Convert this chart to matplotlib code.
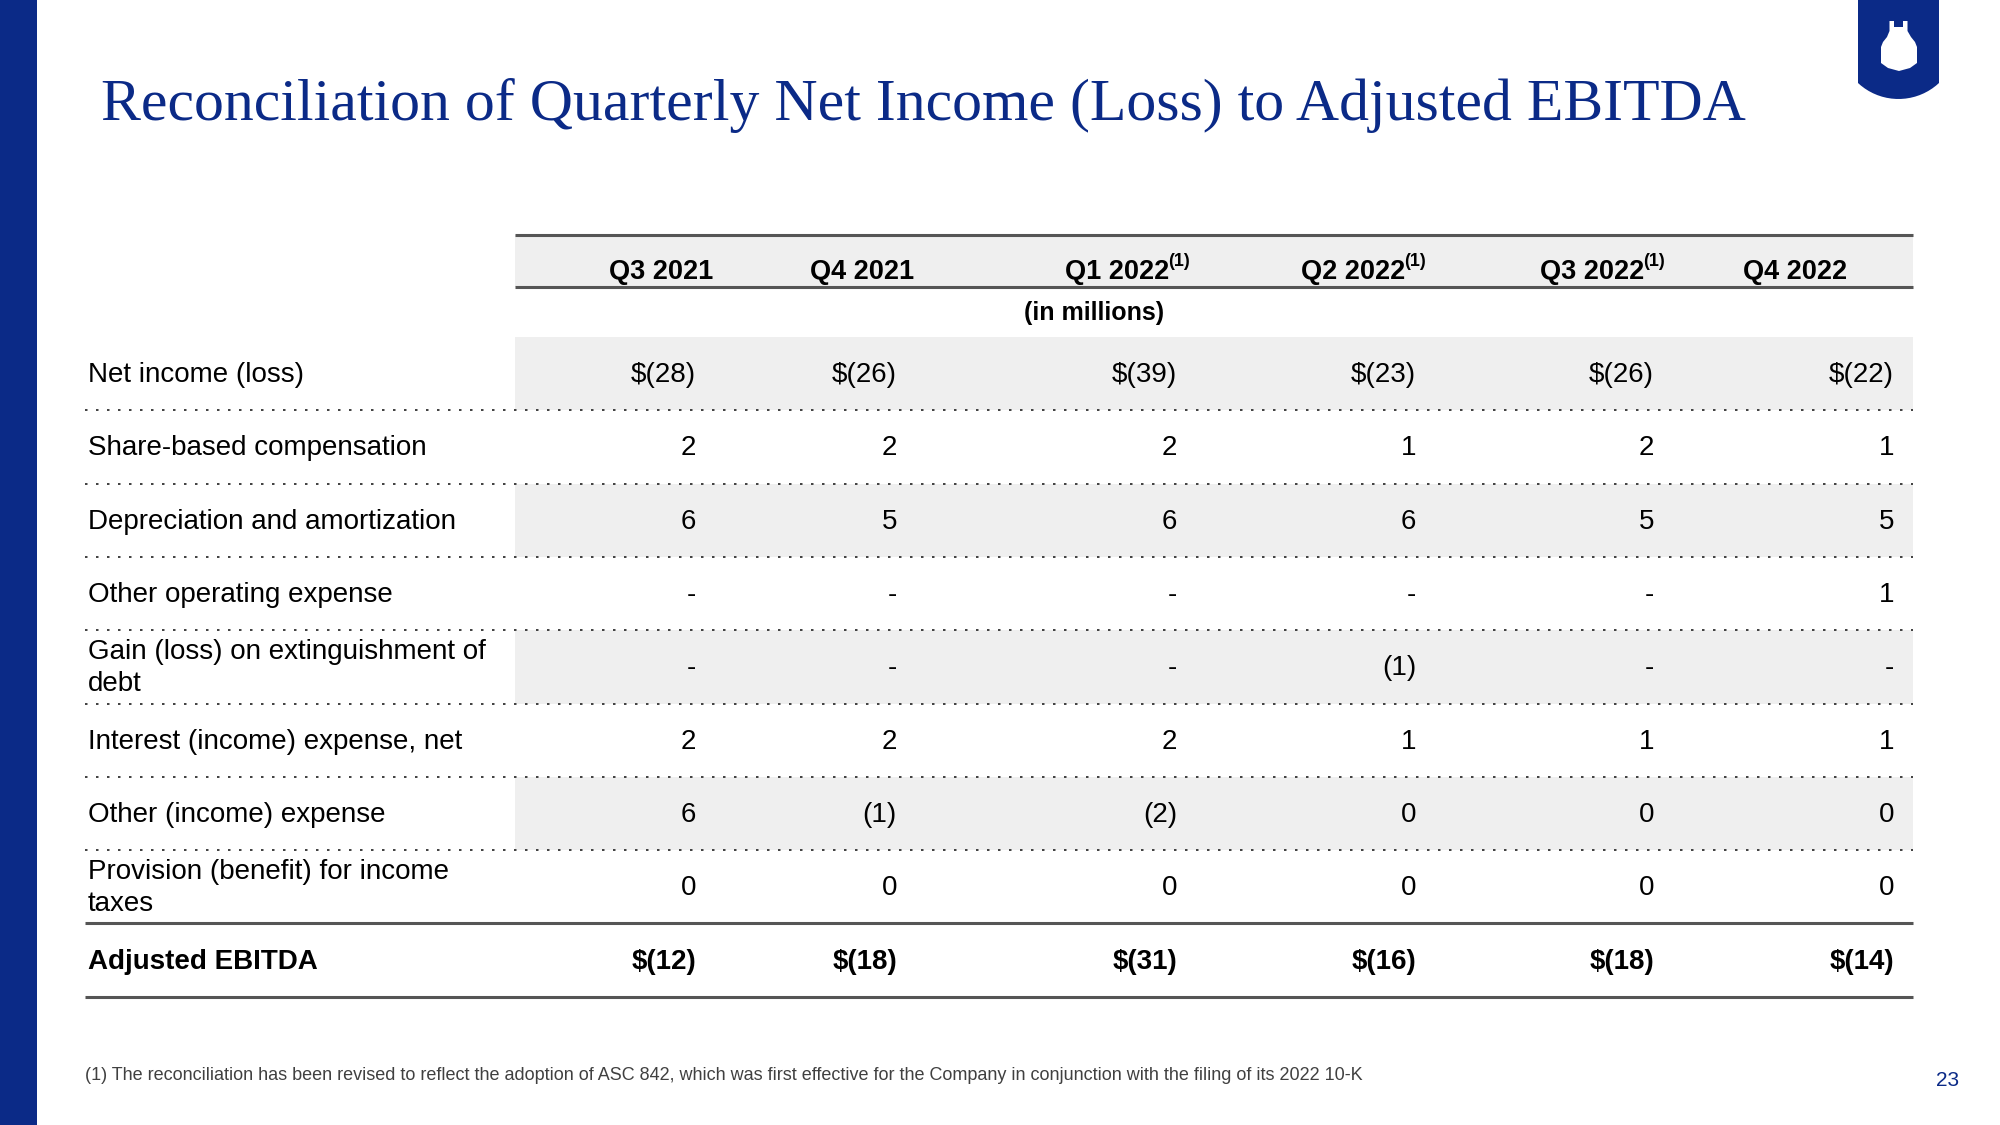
import numpy as np
import matplotlib.pyplot as plt
from matplotlib.patches import Polygon, Rectangle

# ---- data ----
quarters = ['Q3 2021', 'Q4 2021', 'Q1 2022', 'Q2 2022', 'Q3 2022', 'Q4 2022']
revised = [False, False, True, True, True, False]
row_labels = ['Net income (loss)', 'Share-based compensation', 'Depreciation and amortization',
              'Other operating expense', 'Gain (loss) on extinguishment of\ndebt',
              'Interest (income) expense, net', 'Other (income) expense',
              'Provision (benefit) for income\ntaxes', 'Adjusted EBITDA']
net_income = [-28, -26, -39, -23, -26, -22]
share_based_comp = [2, 2, 2, 1, 2, 1]
dep_amort = [6, 5, 6, 6, 5, 5]
other_operating = [None, None, None, None, None, 1]
gain_loss_debt = [None, None, None, -1, None, None]
interest_net = [2, 2, 2, 1, 1, 1]
other_income = [6, -1, -2, 0, 0, 0]
income_taxes = [0, 0, 0, 0, 0, 0]
adjusted_ebitda = [-12, -18, -31, -16, -18, -14]
rows = [net_income, share_based_comp, dep_amort, other_operating, gain_loss_debt,
        interest_net, other_income, income_taxes, adjusted_ebitda]
dollar_rows = [0, 8]

title = 'Reconciliation of Quarterly Net Income (Loss) to Adjusted EBITDA'
footnote = ('(1) The reconciliation has been revised to reflect the adoption of ASC 842, which was first '
            'effective for the Company in conjunction with the filing of its 2022 10-K')
page_no = '23'

NAVY = '#0B2A87'
GRAY = '#EFEFEF'
LINE = '#555555'

def fmt(v, dollar):
    if v is None:
        return '-'
    s = f'({abs(v)})' if v < 0 else f'{v}'
    return '$' + s if dollar else s

plt.rcParams['font.family'] = ['Liberation Sans', 'DejaVu Sans']
fig = plt.figure(figsize=(20, 11.25), dpi=100)
ax = fig.add_axes([0, 0, 1, 1])
ax.set_xlim(0, 2000)
ax.set_ylim(1125, 0)
ax.axis('off')

# left bar
ax.add_patch(Rectangle((0, 0), 37, 1125, color=NAVY, lw=0))

# logo shield
t = np.linspace(0, np.pi, 40)
r = 59.3
arc = [(1898.5 + r * np.cos(a), 39.7 + r * np.sin(a)) for a in t]
arc = [p for p in arc if p[1] >= 83]
shield = [(1858, 0), (1939, 0), (1939, 83)] + arc + [(1858, 83)]
ax.add_patch(Polygon(shield, closed=True, color=NAVY, lw=0))
apron = [(1889.5, 21), (1894, 21), (1894, 27), (1903, 27), (1903, 21), (1907.5, 21), (1907.5, 31),
         (1911, 37), (1915, 42), (1917, 47), (1917, 63), (1910, 68), (1899, 71), (1888, 68),
         (1881, 63), (1881, 47), (1883, 42), (1887, 37), (1889.5, 31)]
ax.add_patch(Polygon(apron, closed=True, color='white', lw=0))

# title
ax.text(101, 120, title, fontsize=43, color=NAVY, family='Liberation Serif', va='baseline', ha='left')

# table geometry
tab_x0, tab_x1, line_x0 = 515, 1913, 85
head_top, head_bot = 235, 287
row_top, row_h = 337, 73.3
head_cx = [661, 862, 1117, 1353, 1592, 1795]
val_rx = [696, 897, 1177, 1416, 1654, 1894]

ax.add_patch(Rectangle((tab_x0, head_top), tab_x1 - tab_x0, head_bot - head_top, color=GRAY, lw=0))
ax.plot([tab_x0, tab_x1], [head_top, head_top], color=LINE, lw=2.2, solid_capstyle='butt')
ax.plot([tab_x0, tab_x1], [head_bot, head_bot], color=LINE, lw=2.2, solid_capstyle='butt')

renderer = fig.canvas.get_renderer()
for q, cx, rev in zip(quarters, head_cx, revised):
    tx = ax.text(cx, 272, q, fontsize=19.5, fontweight='bold', ha='center', va='center')
    if rev:
        bb = tx.get_window_extent(renderer).transformed(ax.transData.inverted())
        ax.text(bb.x1 - 1, 262, '(1)', fontsize=13, fontweight='bold', ha='left', va='center')
ax.text(1094, 313, '(in millions)', fontsize=18, fontweight='bold', ha='center', va='center')

for i, (lab, vals) in enumerate(zip(row_labels, rows)):
    y0 = row_top + i * row_h
    yc = y0 + row_h / 2 + 1.5
    if i % 2 == 0 and i < 8:
        ax.add_patch(Rectangle((tab_x0, y0), tab_x1 - tab_x0, row_h, color=GRAY, lw=0))
    bold = 'bold' if i == 8 else 'normal'
    ax.text(88, yc, lab, fontsize=20, fontweight=bold, ha='left', va='center', linespacing=1.3)
    for v, rx in zip(vals, val_rx):
        ax.text(rx, yc, fmt(v, i in dollar_rows), fontsize=20, fontweight=bold, ha='right', va='center')
    yb = y0 + row_h
    if i < 7:
        ax.plot([line_x0, tab_x1], [yb, yb], color='#444444', lw=1.44, linestyle=(0, (1.25, 4.25)))
    else:
        ax.plot([line_x0, tab_x1], [yb, yb], color=LINE, lw=2.2, solid_capstyle='butt')

# footnote and page number
ax.text(85, 1076, footnote, fontsize=13, color='#404040', ha='left', va='center')
ax.text(1948, 1080, page_no, fontsize=15, color=NAVY, ha='center', va='center')

fig.savefig('out.png', dpi=100)
